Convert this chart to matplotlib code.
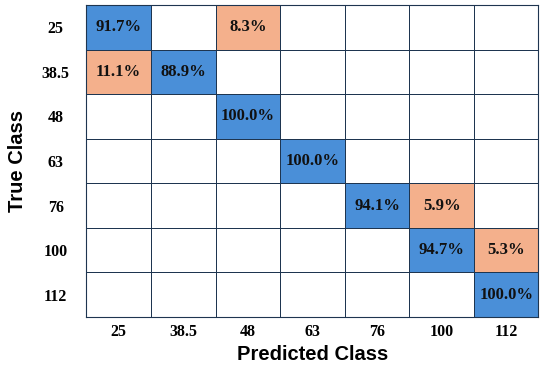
import numpy as np
import matplotlib.pyplot as plt
from matplotlib.colors import ListedColormap

# Class labels and confusion matrix (percent of true class)
classes = ['25', '38.5', '48', '63', '76', '100', '112']
cm = np.array([
    [91.7, 0, 8.3, 0, 0, 0, 0],
    [11.1, 88.9, 0, 0, 0, 0, 0],
    [0, 0, 100.0, 0, 0, 0, 0],
    [0, 0, 0, 100.0, 0, 0, 0],
    [0, 0, 0, 0, 94.1, 5.9, 0],
    [0, 0, 0, 0, 0, 94.7, 5.3],
    [0, 0, 0, 0, 0, 0, 100.0],
])

n = len(classes)
# 0 = empty, 1 = correct (diagonal), 2 = misclassified
kind = np.zeros_like(cm, dtype=int)
kind[cm > 0] = 2
kind[np.eye(n, dtype=bool) & (cm > 0)] = 1
cmap = ListedColormap(['white', '#4a8fd8', '#f4b08c'])

fig = plt.figure(figsize=(5.5, 3.66), dpi=100)
ax = fig.add_axes([0.157, 0.134, 0.822, 0.852])
ax.pcolormesh(kind, cmap=cmap, vmin=-0.5, vmax=2.5,
              edgecolors='#1e3550', linewidth=0.6)
ax.set_xlim(0, n)
ax.set_ylim(n, 0)

for i in range(n):
    for j in range(n):
        if cm[i, j] > 0:
            ax.text(j + 0.5, i + 0.5, f'{cm[i, j]:.1f}%', ha='center', va='center',
                    fontsize=12, fontweight='bold', family='Liberation Serif', color='#111111')

ax.set_xticks(np.arange(n) + 0.5)
ax.set_yticks(np.arange(n) + 0.5)
ax.set_xticklabels(classes, fontsize=11.5, fontweight='bold', family='Liberation Serif')
ax.set_yticklabels(classes, fontsize=11.5, fontweight='bold', family='Liberation Serif', ha='center')
ax.tick_params(length=0)
ax.tick_params(axis='x', pad=5)
ax.tick_params(axis='y', pad=22)
for s in ax.spines.values():
    s.set_color('#1e3550')
    s.set_linewidth(0.8)

ax.set_xlabel('Predicted Class', fontsize=14.5, fontweight='bold', family='Liberation Sans', labelpad=4)
ax.set_ylabel('True Class', fontsize=14.5, fontweight='bold', family='Liberation Sans', labelpad=11)

fig.savefig('out.png', dpi=100)
